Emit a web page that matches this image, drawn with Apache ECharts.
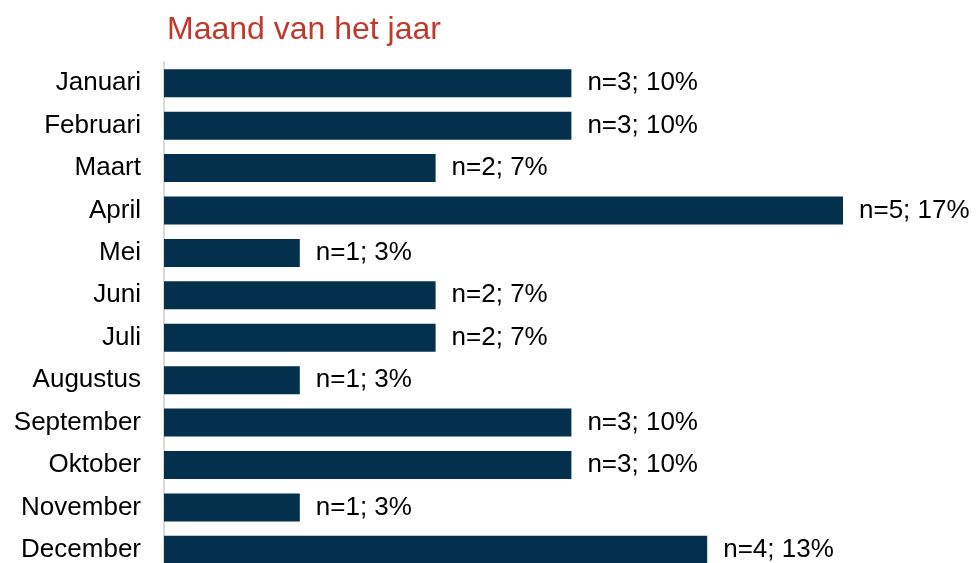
<!DOCTYPE html>
<html>
<head>
<meta charset="utf-8">
<script src="https://cdn.jsdelivr.net/npm/echarts@6/dist/echarts.min.js"></script>
<style>
  html, body { margin: 0; padding: 0; background: #fff; overflow: hidden; }
  /* plot runs slightly past the bottom edge, like the original cut-off slide */
  #chart { width: 976px; height: 571px; }
</style>
</head>
<body>
<div id="chart"></div>
<script>
var maanden = ['Januari', 'Februari', 'Maart', 'April', 'Mei', 'Juni', 'Juli', 'Augustus', 'September', 'Oktober', 'November', 'December'];
var aantallen = [3, 3, 2, 5, 1, 2, 2, 1, 3, 3, 1, 4];
var procenten = [10, 10, 7, 17, 3, 7, 7, 3, 10, 10, 3, 13];

var myChart = echarts.init(document.getElementById('chart'));
var option = {
  animation: false,
  title: {
    text: 'Maand van het jaar',
    left: 162,
    top: 9,
    textStyle: { color: '#C0392B', fontSize: 32, fontWeight: 'normal', fontFamily: 'Liberation Sans, Arial, sans-serif' }
  },
  grid: { left: 164, right: 133, top: 62, bottom: 0 },
  xAxis: {
    type: 'value',
    min: 0,
    max: 5,
    show: false
  },
  yAxis: {
    type: 'category',
    data: maanden,
    inverse: true,
    axisLine: { show: true, lineStyle: { color: '#D9D9D9', width: 2 } },
    axisTick: { show: false },
    axisLabel: { color: '#000', fontSize: 26, margin: 23, fontFamily: 'Liberation Sans, Arial, sans-serif' }
  },
  series: [{
    type: 'bar',
    data: aantallen,
    barWidth: 28,
    itemStyle: { color: '#03304C' },
    label: {
      show: true,
      position: 'right',
      distance: 16,
      color: '#000',
      fontSize: 26,
      fontFamily: 'Liberation Sans, Arial, sans-serif',
      formatter: function (p) {
        return 'n=' + p.value + '; ' + procenten[p.dataIndex] + '%';
      }
    }
  }]
};
myChart.setOption(option);
window.addEventListener('resize', function () { myChart.resize(); });
</script>
</body>
</html>
